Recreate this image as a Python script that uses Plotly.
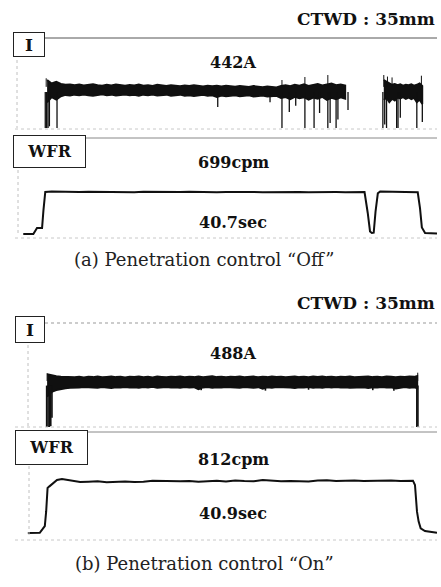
import plotly.graph_objects as go

W, H = 441, 587

# ---------------- data ----------------
# time axis in seconds, shared by all four traces
T_RANGE = [0, 46]

# (a) welding current, main segment: band envelopes [A]
ia_t = [3.5, 4.0, 4.5, 5.0, 5.5, 6.0, 6.5, 7.0, 7.5, 8.0, 8.5, 9.0, 9.5, 10.0, 10.5,
        11.0, 11.5, 12.0, 12.5, 13.0, 13.5, 14.0, 14.5, 15.0, 15.5, 16.0, 16.5, 17.0,
        17.5, 18.0, 18.5, 19.0, 19.5, 20.0, 20.5, 21.0, 21.5, 22.0, 22.5, 23.0, 23.5,
        24.0, 24.5, 25.0, 25.5, 26.0, 26.5, 27.0, 27.5, 28.0, 28.5, 29.0, 29.5, 30.0,
        30.5, 31.0, 31.5, 32.0, 32.5, 33.0, 33.5, 34.0, 34.5, 35.0, 35.5, 36.0]
ia_up = [560, 520, 540, 515, 505, 510, 500, 508, 498, 505, 512, 500, 495, 505, 498,
         510, 500, 495, 503, 498, 508, 495, 500, 492, 505, 497, 490, 500,
         495, 488, 498, 492, 500, 490, 485, 495, 488, 493, 485, 495, 488,
         482, 492, 486, 480, 490, 484, 478, 486, 480, 475, 490, 500, 488,
         505, 495, 510, 492, 500, 515, 498, 505, 520, 500, 508, 495]
ia_lo = [300, 360, 330, 370, 385, 378, 388, 380, 390, 382, 375, 386, 392, 380, 388,
         377, 385, 390, 380, 386, 375, 388, 382, 390, 378, 384, 388, 376,
         382, 388, 375, 380, 372, 382, 386, 374, 380, 360, 378, 370, 376,
         382, 368, 375, 380, 366, 374, 378, 365, 372, 375, 350, 360, 335,
         362, 345, 358, 330, 355, 340, 362, 328, 350, 335, 358, 340]
# (a) second current segment
ia2_t = [40.2, 40.5, 40.8, 41.1, 41.4, 41.7, 42.0, 42.3, 42.6, 42.9, 43.2, 43.5, 43.8, 44.1, 44.4]
ia2_up = [560, 540, 525, 505, 515, 500, 510, 495, 505, 500, 510, 495, 505, 520, 490]
ia2_lo = [330, 350, 300, 340, 320, 355, 345, 360, 340, 355, 335, 350, 300, 330, 280]
# (a) short-circuit dips [s, A] and upward spikes
ia_dip_t = [3.3, 3.45, 3.6, 3.75, 4.58, 22.1, 27.8, 29.1, 29.9, 30.6, 31.6, 32.6, 33.2,
            34.1, 34.35, 35.0, 35.2, 36.3, 40.1, 40.3, 40.5, 41.6, 41.75, 42.0, 43.8, 44.4]
ia_dip_v = [0, 0, 0, 20, 0, 245, 300, 0, 187, 260, 0, 0, 175,
            0, 58, 0, 100, 210, 0, 40, 0, 0, 0, 120, 0, 70]
ia_spk_t = [3.4, 29.1, 31.6, 34.1, 40.2, 40.6, 41.1, 44.3]
ia_spk_v = [580, 560, 595, 618, 618, 600, 590, 610]

# (b) welding current band [A]
ib_t = [3.5, 4.0, 4.5, 5.0, 5.5, 6.0, 6.5, 7.0, 7.5, 8.0, 8.5, 9.0, 9.5, 10.0, 10.5,
        11.0, 11.5, 12.0, 12.5, 13.0, 13.5, 14.0, 14.5, 15.0, 15.5, 16.0, 16.5, 17.0,
        17.5, 18.0, 18.5, 19.0, 19.5, 20.0, 20.5, 21.0, 21.5, 22.0, 22.5, 23.0, 23.5,
        24.0, 24.5, 25.0, 25.5, 26.0, 26.5, 27.0, 27.5, 28.0, 28.5, 29.0, 29.5, 30.0,
        30.5, 31.0, 31.5, 32.0, 32.5, 33.0, 33.5, 34.0, 34.5, 35.0, 35.5, 36.0, 36.5,
        37.0, 37.5, 38.0, 38.5, 39.0, 39.5, 40.0, 40.5, 41.0, 41.5, 42.0, 42.5, 43.0,
        43.5, 43.85]
ib_up = [575, 560, 552, 548, 545, 550, 542, 547, 540, 546, 543, 549, 541, 545, 550,
         543, 547, 540, 548, 544, 551, 542, 546, 540, 549, 545, 541, 548,
         544, 550, 542, 547, 543, 549, 541, 546, 552, 543, 548, 541, 547,
         544, 550, 542, 546, 549, 541, 547, 543, 550, 544, 548, 541, 546,
         551, 543, 547, 542, 549, 545, 550, 543, 547, 541, 548, 544, 550,
         542, 547, 545, 551, 543, 548, 542, 549, 546, 541, 548, 544, 550,
         546, 555]
ib_lo = [330, 380, 400, 412, 420, 425, 430, 427, 433, 428, 431, 426, 433, 429, 424,
         432, 428, 434, 427, 431, 425, 433, 429, 435, 426, 430, 434, 427,
         431, 425, 433, 428, 432, 410, 429, 433, 425, 431, 427, 434, 428,
         430, 426, 433, 429, 425, 432, 415, 430, 426, 433, 428, 431, 427,
         424, 432, 428, 434, 426, 430, 425, 433, 429, 434, 427, 431, 425,
         433, 428, 431, 424, 432, 428, 434, 427, 431, 418, 429, 433, 426,
         430, 420]
ib_dip_t = [3.45, 3.6, 3.75, 3.9, 4.03, 20.3, 27.3, 32.0, 39.0, 41.3, 43.8, 43.92]
ib_dip_v = [0, 0, 0, 10, 100, 400, 395, 405, 400, 395, 0, 0]
ib_spk_t = [3.5, 43.9]
ib_spk_v = [585, 590]

# (a) wire feed rate [cpm]
wa_t = [0.9, 2.0, 2.4, 2.95, 3.1, 3.3, 4, 5, 6, 7, 8, 9, 10, 11, 12, 13, 14, 15, 16, 17,
        18, 19, 20, 21, 22, 23, 24, 25, 26, 27, 28, 29, 30, 31, 32, 33, 34, 35, 36, 37,
        38.1, 38.45, 38.7, 38.9, 39.1, 39.3, 39.55, 39.8, 40.5, 41, 42, 43, 43.7,
        43.9, 44.15, 44.35, 44.7, 46]
wa_v = [61, 61, 152, 152, 420, 700, 708, 702, 705, 698, 703, 700, 706, 699, 702, 697,
        703, 700, 695, 701, 698, 703, 697, 700, 694, 699, 703, 697, 700, 695, 699, 702,
        696, 700, 697, 701, 695, 699, 697, 700,
        698, 380, 100, 76, 80, 400, 680, 705, 703, 700, 702, 699, 703,
        695, 450, 160, 76, 70]

# (b) wire feed rate [cpm]
wb_t = [1.4, 2.7, 3.0, 3.25, 3.4, 3.55, 3.75, 4.58, 5.12, 6.2, 7.1, 8, 9, 10, 11, 12,
        13, 14, 15, 16, 17, 18, 19, 20, 21, 22, 23, 24, 25, 26, 27, 28, 29, 30, 31, 32,
        33, 34, 35, 36, 37, 38, 39, 40, 41, 42, 43, 43.38, 43.6, 43.71, 43.82, 44.0,
        44.22, 44.69, 45.24, 46]
wb_v = [97, 100, 150, 194, 400, 722, 745, 833, 847, 819, 806, 810, 815, 801, 806, 812,
        804, 808, 824, 818, 812, 815, 820, 808, 816, 822, 813, 826, 818, 815, 833, 824,
        816, 821, 819, 812, 826, 829, 818, 822, 827, 820, 824, 818, 826, 821, 824, 824,
        764, 579, 394, 255, 162, 125, 115, 101]

# labels
CTWD = "CTWD : 35mm"
I_LABELS = ["442A", "488A"]
WFR_LABELS = ["699cpm", "812cpm"]
TIME_LABELS = ["40.7sec", "40.9sec"]
CAPTIONS = ["(a) Penetration control \u201cOff\u201d", "(b) Penetration control \u201cOn\u201d"]

# ---------------- figure ----------------
def px(x):
    return x / W

def py(y):
    return 1 - y / H

fig = go.Figure()

panels = {  # axis id: (top px, bottom px, y range)
    1: (38, 128, [0, 1050]),
    2: (138, 238, [0, 1520]),
    3: (323, 427, [0, 1130]),
    4: (432, 540, [0, 1500]),
}
for k, (top, bot, yr) in panels.items():
    sx = "" if k == 1 else str(k)
    fig.update_layout(**{
        f"xaxis{sx}": dict(domain=[px(15), px(437)], range=T_RANGE, visible=False,
                           anchor=f"y{sx}", fixedrange=True),
        f"yaxis{sx}": dict(domain=[py(bot), py(top)], range=yr, visible=False,
                           anchor=f"x{sx}", fixedrange=True),
    })

INK = "#101010"

def band(ts, up, lo, ax):
    fig.add_trace(go.Scatter(x=ts + ts[::-1], y=up + lo[::-1], fill="toself",
                             fillcolor=INK, mode="lines",
                             line=dict(color=INK, width=1.8),
                             xaxis=f"x{ax}", yaxis=f"y{ax}", hoverinfo="skip",
                             showlegend=False))

def spikes(ts, vals, base, ax, width=1.3):
    xs, ys = [], []
    for t, v in zip(ts, vals):
        xs += [t, t, None]
        ys += [base, v, None]
    fig.add_trace(go.Scatter(x=xs, y=ys, mode="lines",
                             line=dict(color=INK, width=width),
                             xaxis=f"x{ax}", yaxis=f"y{ax}", hoverinfo="skip",
                             showlegend=False))

band(ia_t, ia_up, ia_lo, "")
band(ia2_t, ia2_up, ia2_lo, "")
spikes(ia_dip_t, ia_dip_v, 420, "")
spikes(ia_spk_t, ia_spk_v, 480, "", 1)
band(ib_t, ib_up, ib_lo, "3")
spikes(ib_dip_t, ib_dip_v, 450, "3", 1.6)
spikes(ib_spk_t, ib_spk_v, 500, "3", 1)

fig.add_trace(go.Scatter(x=wa_t, y=wa_v, mode="lines", line=dict(color=INK, width=2),
                         xaxis="x2", yaxis="y2", hoverinfo="skip", showlegend=False))
fig.add_trace(go.Scatter(x=wb_t, y=wb_v, mode="lines", line=dict(color=INK, width=2),
                         xaxis="x4", yaxis="y4", hoverinfo="skip", showlegend=False))

# ---------------- frame lines ----------------
shapes = []
def hline(x0, x1, y, color, width=1, dash="solid"):
    shapes.append(dict(type="line", xref="paper", yref="paper", x0=px(x0), x1=px(x1),
                       y0=py(y), y1=py(y), line=dict(color=color, width=width, dash=dash)))

def vline(x, y0, y1, color, width=1, dash="dot"):
    shapes.append(dict(type="line", xref="paper", yref="paper", x0=px(x), x1=px(x),
                       y0=py(y0), y1=py(y1), line=dict(color=color, width=width, dash=dash)))

hline(45, 437, 38, "#555555", 1)
hline(15, 437, 129, "#c8c8c8", 1, "dot")
hline(86, 437, 138, "#888888", 1)
hline(15, 437, 238, "#c8c8c8", 1, "dot")
hline(45, 437, 323, "#999999", 1.2, "dot")
hline(15, 437, 427, "#c8c8c8", 1, "dot")
hline(88, 437, 432, "#888888", 1)
hline(15, 437, 540, "#c8c8c8", 1, "dot")
vline(17, 60, 128, "#c0c0c0")
vline(18, 170, 236, "#c0c0c0")
vline(28, 345, 427, "#c0c0c0")
vline(29, 466, 535, "#c0c0c0")
fig.update_layout(shapes=shapes)

# ---------------- text ----------------
ann = []
SERIF_B = "DejaVu Serif"
def text(s, x, y, size, bold=True, xanchor="center", family=SERIF_B, color="#111"):
    ann.append(dict(text=f"<b>{s}</b>" if bold else s, x=px(x), y=py(y), xref="paper",
                    yref="paper", xanchor=xanchor, yanchor="middle", showarrow=False,
                    font=dict(family=family, size=size, color=color)))

def box(s, x0, y0, x1, y1, size):
    ann.append(dict(text=f"<b>{s}</b>", x=px((x0 + x1) / 2), y=py((y0 + y1) / 2),
                    xref="paper", yref="paper", xanchor="center", yanchor="middle",
                    showarrow=False, width=x1 - x0 - 2, height=y1 - y0 - 2,
                    bordercolor="#222", borderwidth=1, borderpad=0, bgcolor="white",
                    font=dict(family=SERIF_B, size=size, color="#111")))

for i, yc in enumerate([19, 303]):
    text(CTWD, 437, yc, 17, xanchor="right")
for i, (yi, yw, yt, yc) in enumerate([(63, 162, 223, 259), (353, 459, 513, 563)]):
    text(I_LABELS[i], 233, yi, 16)
    text(WFR_LABELS[i], 233, yw, 16)
    text(TIME_LABELS[i], 233, yt, 16)
    text(CAPTIONS[i], 204, yc, 18, bold=False, family="DejaVu Serif", color="#222")

box("I", 13, 32, 45, 57, 17)
box("WFR", 13, 135, 86, 168, 16)
box("I", 15, 316, 45, 343, 17)
box("WFR", 15, 430, 88, 465, 16)
fig.update_layout(annotations=ann)

fig.update_layout(width=W, height=H, margin=dict(l=0, r=0, t=0, b=0),
                  paper_bgcolor="white", plot_bgcolor="white")
fig.write_html("out.html", config={"displayModeBar": False})
